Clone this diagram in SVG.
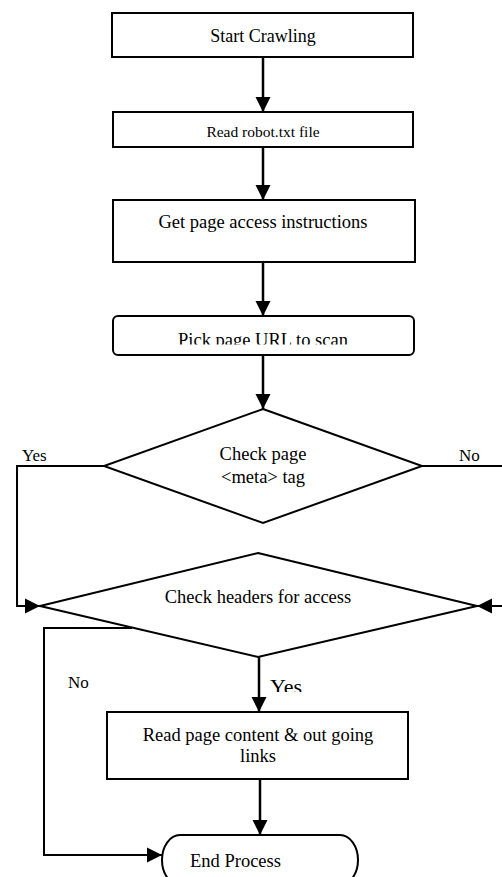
<svg xmlns="http://www.w3.org/2000/svg" width="502" height="877" viewBox="0 0 502 877">
<style>
.box{fill:#fff;stroke:#000;stroke-width:2}
.t{font-family:"Liberation Serif","Times New Roman",serif;font-size:18.5px;fill:#000;text-anchor:middle}
.l{font-family:"Liberation Serif","Times New Roman",serif;font-size:17px;fill:#000}
.c{fill:none;stroke:#000;stroke-width:2}
.c2{fill:none;stroke:#000;stroke-width:2.5}
</style>
<defs>
<marker id="ah" markerUnits="userSpaceOnUse" markerWidth="16" markerHeight="16" viewBox="0 0 16 16" refX="15" refY="8" orient="auto">
<path d="M0,0.5 L15,8 L0,15.5 Z" fill="#000"/>
</marker>
<clipPath id="clipPick"><rect x="100" y="320" width="320" height="24.5"/></clipPath>
<clipPath id="clipYes"><rect x="260" y="665" width="60" height="27"/></clipPath>
</defs>
<g id="connectors">
<path class="c2" d="M263,57 V112" marker-end="url(#ah)"/>
<path class="c2" d="M263,147 V200" marker-end="url(#ah)"/>
<path class="c2" d="M263,262 V316" marker-end="url(#ah)"/>
<path class="c2" d="M263,355 V409" marker-end="url(#ah)"/>
<path class="c" d="M104,466 H17 V606 H40" marker-end="url(#ah)"/>
<path class="c" d="M422,466 H504 V606 H477" marker-end="url(#ah)"/>
<path class="c2" d="M259,657 V712" marker-end="url(#ah)"/>
<path class="c" d="M132,628 H44 V855 H162" marker-end="url(#ah)"/>
<path class="c2" d="M260,779 V835" marker-end="url(#ah)"/>
</g>
<g id="start">
<rect class="box" x="112" y="13" width="301" height="44"/>
<text class="t" x="263" y="42" style="font-size:18px">Start Crawling</text>
</g>
<g id="robot">
<rect class="box" x="113" y="112" width="300" height="35"/>
<text class="t" x="263" y="137" style="font-size:15.5px">Read robot.txt file</text>
</g>
<g id="instructions">
<rect class="box" x="113" y="200" width="302" height="62"/>
<text class="t" x="263" y="228">Get page access instructions</text>
</g>
<g id="pick">
<rect class="box" x="113" y="316" width="301" height="39" rx="5"/>
<text class="t" x="263" y="346" clip-path="url(#clipPick)">Pick page URL to scan</text>
</g>
<g id="meta">
<polygon class="box" points="263,409 422,466 263,523 104,466"/>
<text class="t" x="263" y="460">Check page</text>
<text class="t" x="263" y="483">&lt;meta&gt; tag</text>
</g>
<g id="headers">
<polygon class="box" points="258,553 477,606 258,657 40,606"/>
<text class="t" x="258" y="603">Check headers for access</text>
</g>
<g id="read">
<rect class="box" x="107" y="712" width="301" height="67"/>
<text class="t" x="258" y="741">Read page content &amp; out going</text>
<text class="t" x="258" y="762">links</text>
</g>
<g id="end">
<path class="box" d="M180,835 H340 A18,25 0 0 1 340,885 H180 A18,25 0 0 1 180,835 Z"/>
<text class="t" x="190" y="867" style="text-anchor:start">End Process</text>
</g>
<g id="labels">
<text class="l" x="22" y="461">Yes</text>
<text class="l" x="459" y="461">No</text>
<text class="l" x="68" y="688">No</text>
<text class="l" x="270" y="694" style="font-size:22px" clip-path="url(#clipYes)">Yes</text>
</g>
</svg>
